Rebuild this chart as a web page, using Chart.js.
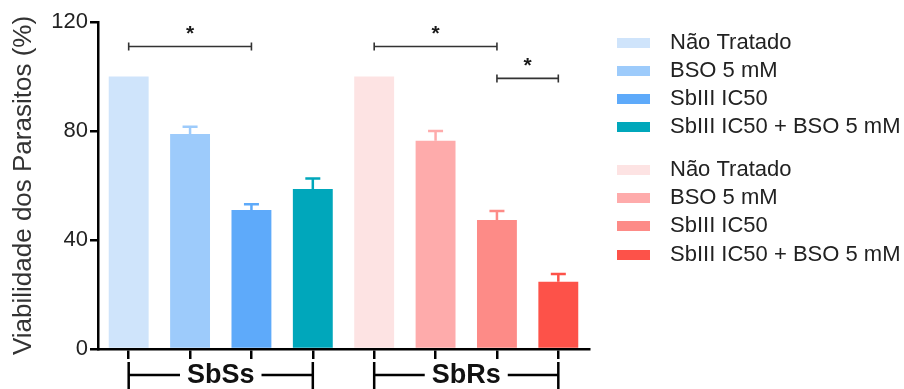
<!DOCTYPE html>
<html>
<head>
<meta charset="utf-8">
<script src="https://cdn.jsdelivr.net/npm/chart.js@4"></script>
<style>
  html, body { margin: 0; padding: 0; background: #fff; }
  canvas { display: block; }
</style>
</head>
<body>
<canvas id="c" width="904" height="389"></canvas>
<script>
const groups = ['SbSs', 'SbRs'];
const treatments = ['Não Tratado', 'BSO 5 mM', 'SbIII IC50', 'SbIII IC50 + BSO 5 mM'];
const categories = ['SbSs Não Tratado', 'SbSs BSO 5 mM', 'SbSs SbIII IC50', 'SbSs SbIII IC50 + BSO 5 mM',
                    'SbRs Não Tratado', 'SbRs BSO 5 mM', 'SbRs SbIII IC50', 'SbRs SbIII IC50 + BSO 5 mM'];
const viability = [100, 78.9, 51.0, 58.7, 100, 76.4, 47.3, 24.7];
const sem = [0, 2.7, 2.1, 3.9, 0, 3.6, 3.3, 2.8];
const barColors = ['#cfe4fb', '#9dcbfb', '#5eaafa', '#00a7bb', '#fde3e3', '#feabab', '#fd8b87', '#fd5249'];
const yTicks = [0, 40, 80, 120];
const significance = [
  { from: 0, to: 2, level: 111, label: '*' },
  { from: 4, to: 6, level: 111, label: '*' },
  { from: 6, to: 7, level: 99.3, label: '*' }
];

const FONT = '"Liberation Sans", Arial, Helvetica, sans-serif';

const extras = {
  id: 'extras',
  afterDatasetsDraw(chart) {
    const ctx = chart.ctx;
    const meta = chart.getDatasetMeta(0);
    const ys = chart.scales.y;
    ctx.save();
    // error bars (upward only)
    ctx.lineWidth = 2.5;
    meta.data.forEach((bar, i) => {
      if (!sem[i]) return;
      const top = ys.getPixelForValue(viability[i] + sem[i]);
      ctx.strokeStyle = barColors[i];
      ctx.beginPath();
      ctx.moveTo(bar.x, bar.y);
      ctx.lineTo(bar.x, top);
      ctx.moveTo(bar.x - 7.5, top);
      ctx.lineTo(bar.x + 7.5, top);
      ctx.stroke();
    });
    // significance brackets
    ctx.strokeStyle = '#333';
    ctx.fillStyle = '#1a1a1a';
    ctx.lineWidth = 1.6;
    ctx.font = 'bold 21px ' + FONT;
    ctx.textAlign = 'center';
    ctx.textBaseline = 'middle';
    significance.forEach(s => {
      const x1 = meta.data[s.from].x, x2 = meta.data[s.to].x;
      const y = ys.getPixelForValue(s.level);
      ctx.beginPath();
      ctx.moveTo(x1, y); ctx.lineTo(x2, y);
      ctx.moveTo(x1, y - 4); ctx.lineTo(x1, y + 4);
      ctx.moveTo(x2, y - 4); ctx.lineTo(x2, y + 4);
      ctx.stroke();
      ctx.fillText(s.label, (x1 + x2) / 2, y - 12);
    });
    // group brackets under the x axis
    ctx.strokeStyle = '#000';
    ctx.fillStyle = '#111';
    ctx.lineWidth = 2.5;
    ctx.font = 'bold 27px ' + FONT;
    groups.forEach((g, gi) => {
      const x1 = meta.data[gi * 4].x, x2 = meta.data[gi * 4 + 3].x;
      const yMid = 375;
      const w = ctx.measureText(g).width;
      const cx = (x1 + x2) / 2;
      ctx.beginPath();
      ctx.moveTo(x1, 362); ctx.lineTo(x1, 389);
      ctx.moveTo(x2, 362); ctx.lineTo(x2, 389);
      ctx.moveTo(x1, yMid); ctx.lineTo(cx - w / 2 - 7, yMid);
      ctx.moveTo(cx + w / 2 + 7, yMid); ctx.lineTo(x2, yMid);
      ctx.stroke();
      ctx.fillText(g, cx, yMid + 1);
    });
    // legend
    ctx.font = '22px ' + FONT;
    ctx.textAlign = 'left';
    const rows = [43, 71, 99, 127, 170, 198, 226, 255];
    categories.forEach((c, i) => {
      const y = rows[i];
      ctx.fillStyle = barColors[i];
      ctx.fillRect(617, y - 5, 33, 10);
      ctx.fillStyle = '#222';
      ctx.fillText(treatments[i % 4], 670, y);
    });
    ctx.restore();
  }
};

new Chart(document.getElementById('c'), {
  type: 'bar',
  data: {
    labels: categories,
    datasets: [{
      data: viability,
      backgroundColor: barColors,
      borderWidth: 0,
      barPercentage: 0.65,
      categoryPercentage: 1.0
    }]
  },
  options: {
    responsive: false,
    animation: false,
    devicePixelRatio: 1,
    layout: { padding: { top: 22, right: 315, bottom: 0, left: 0 } },
    plugins: { legend: { display: false }, tooltip: { enabled: false } },
    scales: {
      x: {
        grid: { display: true, drawOnChartArea: false, drawTicks: true, tickLength: 10, color: '#000', lineWidth: 2.5, offset: false },
        border: { display: true, color: '#000', width: 2.5 },
        ticks: { display: false },
        afterFit: s => { s.height = 40; }
      },
      y: {
        min: 0, max: 120,
        afterBuildTicks: s => { s.ticks = yTicks.map(v => ({ value: v })); },
        grid: { display: true, drawOnChartArea: false, drawTicks: true, tickLength: 8, color: '#000', lineWidth: 2.5 },
        border: { display: true, color: '#000', width: 2.5 },
        ticks: { font: { family: FONT, size: 22 }, color: '#222', padding: 2 },
        title: { display: true, text: 'Viabilidade dos Parasitos (%)', font: { family: FONT, size: 26 }, color: '#333', padding: { top: 8, bottom: 0 } },
        afterFit: s => { s.width = 98; }
      }
    }
  },
  plugins: [extras]
});
</script>
</body>
</html>
